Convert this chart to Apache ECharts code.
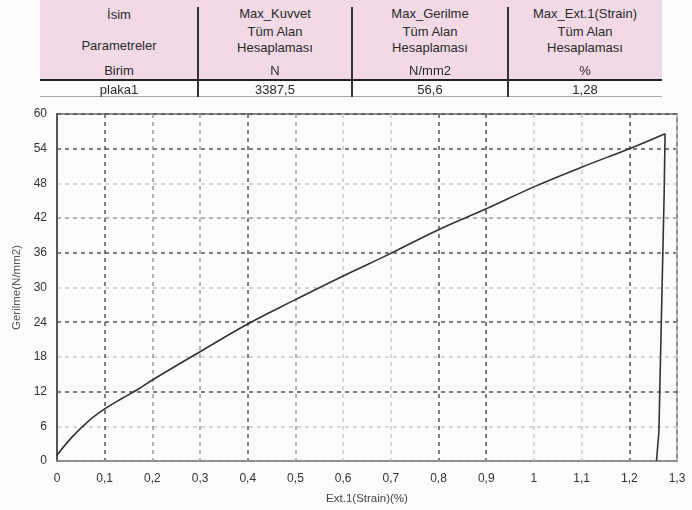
<!DOCTYPE html>
<html>
<head>
<meta charset="utf-8">
<script src="https://cdn.jsdelivr.net/npm/echarts@6/dist/echarts.min.js"></script>
<style>
  html, body { margin: 0; padding: 0; background: #fbfbfb; }
  #wrap { position: relative; width: 692px; height: 510px; overflow: hidden; }
  #chart { position: absolute; left: 0; top: 0; width: 692px; height: 510px; }
  #table { position: absolute; left: 0; top: 0; width: 692px; height: 100px;
           font-family: "Liberation Sans", Arial, sans-serif; font-size: 13px; color: #2a2a2a; }
  .t { position: absolute; text-align: center; white-space: nowrap; transform: translate(-50%, -50%); }
</style>
</head>
<body>
<div id="wrap">
  <div id="chart"></div>
  <div id="table"></div>
</div>
<script>
// ---- table contents ----
const tableColumns = [
  ['İsim', 'Parametreler', 'Birim'],
  ['Max_Kuvvet', 'Tüm Alan', 'Hesaplaması', 'N'],
  ['Max_Gerilme', 'Tüm Alan', 'Hesaplaması', 'N/mm2'],
  ['Max_Ext.1(Strain)', 'Tüm Alan', 'Hesaplaması', '%']
];
const tableRow = ['plaka1', '3387,5', '56,6', '1,28'];

// ---- chart data ----
const strain = [0, 0.03, 0.066, 0.1, 0.136, 0.17, 0.2, 0.3, 0.4, 0.5, 0.6, 0.7, 0.8, 0.9, 1.0, 1.1, 1.2, 1.275];
const stress = [1.0, 4.0, 6.9, 9.0, 10.8, 12.4, 14.0, 18.9, 23.7, 27.9, 32.0, 35.9, 40.0, 43.6, 47.4, 50.8, 54.0, 56.6];
const dropStrain = [1.275, 1.273, 1.262, 1.257];
const dropStress = [56.6, 46.0, 5.0, 0];
const xTickLabels = ['0', '0,1', '0,2', '0,3', '0,4', '0,5', '0,6', '0,7', '0,8', '0,9', '1', '1,1', '1,2', '1,3'];
const yTickLabels = ['0', '6', '12', '18', '24', '30', '36', '42', '48', '54', '60'];
const xTitle = 'Ext.1(Strain)(%)';
const yTitle = 'Gerilme(N/mm2)';

// ---- build table ----
(function () {
  const t = document.getElementById('table');
  const colEdges = [40, 198, 352, 508, 662];
  const pink = document.createElement('div');
  pink.style.cssText = 'position:absolute;left:40px;top:0;width:622px;height:79px;background:#f1d9e6;';
  t.appendChild(pink);
  const thick = document.createElement('div');
  thick.style.cssText = 'position:absolute;left:40px;top:79px;width:622px;height:2px;background:#222;';
  t.appendChild(thick);
  const bottom = document.createElement('div');
  bottom.style.cssText = 'position:absolute;left:40px;top:96px;width:622px;height:1px;background:#aaa;';
  t.appendChild(bottom);
  for (let i = 1; i < 4; i++) {
    const s = document.createElement('div');
    s.style.cssText = 'position:absolute;left:' + (colEdges[i] - 1) + 'px;top:7px;width:2px;height:90px;background:#333;';
    t.appendChild(s);
  }
  const yPos3 = [14, 45, 70];
  const yPos4 = [13, 31, 47, 70];
  tableColumns.forEach((col, ci) => {
    const cx = (colEdges[ci] + colEdges[ci + 1]) / 2;
    const ys = col.length === 3 ? yPos3 : yPos4;
    col.forEach((txt, li) => {
      const d = document.createElement('div');
      d.className = 't';
      d.textContent = txt;
      d.style.left = cx + 'px';
      d.style.top = ys[li] + 'px';
      t.appendChild(d);
    });
    const r = document.createElement('div');
    r.className = 't';
    r.textContent = tableRow[ci];
    r.style.left = cx + 'px';
    r.style.top = '89px';
    t.appendChild(r);
  });
})();

// ---- chart ----
const chart = echarts.init(document.getElementById('chart'), null, { renderer: 'canvas' });
const dark = '#555555', mid = '#9a9a9a', light = '#d6c3cd';
chart.setOption({
  animation: false,
  backgroundColor: 'transparent',
  grid: { left: 57, right: 15, top: 114, bottom: 47, show: true, borderColor: '#6a6a6a', borderWidth: 1.5, backgroundColor: 'transparent' },
  xAxis: {
    type: 'value', min: 0, max: 1.3, interval: 0.1,
    name: xTitle, nameLocation: 'middle', nameGap: 32,
    nameTextStyle: { fontFamily: 'Liberation Sans', fontSize: 11.5, color: '#444' },
    axisLine: { show: true, onZero: false, lineStyle: { color: '#999', width: 1.5 } },
    axisTick: { show: false },
    axisLabel: { margin: 12, fontFamily: 'Liberation Sans', fontSize: 12, color: '#333',
      formatter: v => xTickLabels[Math.round(v * 10)] },
    splitLine: { show: true, lineStyle: { type: [4, 4], width: 1.5,
      color: [dark, dark, mid, mid, dark, mid, light, light, dark, dark, light, light, dark, light] } }
  },
  yAxis: {
    type: 'value', min: 0, max: 60, interval: 6,
    name: yTitle, nameLocation: 'middle', nameGap: 31, nameRotate: 90,
    nameTextStyle: { fontFamily: 'Liberation Sans', fontSize: 11.5, color: '#555' },
    axisLine: { show: true, lineStyle: { color: '#555', width: 2 } },
    axisTick: { show: false },
    axisLabel: { margin: 10, fontFamily: 'Liberation Sans', fontSize: 12, color: '#333',
      formatter: v => yTickLabels[Math.round(v / 6)] },
    splitLine: { show: true, lineStyle: { type: [4, 4], width: 1.5,
      color: [dark, light, dark, light, dark, light, dark, mid, light, dark, dark] } }
  },
  series: [{
    type: 'line',
    data: strain.map((x, i) => [x, stress[i]]),
    showSymbol: false,
    smooth: 0.4,
    lineStyle: { color: '#333', width: 1.6 }
  }, {
    type: 'line',
    data: dropStrain.map((x, i) => [x, dropStress[i]]),
    showSymbol: false,
    lineStyle: { color: '#333', width: 1.6 }
  }]
});
</script>
</body>
</html>
